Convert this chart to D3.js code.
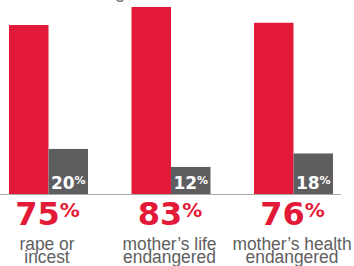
<!DOCTYPE html>
<html><head><meta charset="utf-8">
<script src="https://cdn.jsdelivr.net/npm/d3@7"></script>
<style>
html,body{margin:0;padding:0;background:#fff;overflow:hidden}
svg{display:block}
</style></head>
<body>
<script>
const categories = [["rape or","incest"],["mother\u2019s life","endangered"],["mother\u2019s health","endangered"]];
const catKeys = ["rape","life","health"];
const legalValues = [75, 83, 76];
const illegalValues = [20, 12, 18];
const seriesKeys = ["legal","illegal"];

const W = 354, H = 266;
const red = "#e31a37", gray = "#5e5e60", textGray = "#606060";

const svg = d3.select("body").append("svg").attr("width", W).attr("height", H);

const x = d3.scaleBand().domain(catKeys).range([9, 333]).paddingInner(0.355).paddingOuter(0);
const xs = d3.scaleBand().domain(seriesKeys).range([0, x.bandwidth()]);
const y = d3.scaleLinear().domain([0, 100]).range([194, 194 - 225.3]);

// partial title descender at top
svg.append("text").attr("x", 120).attr("y", -2.5).attr("text-anchor","middle")
  .attr("font-family","'Liberation Sans',sans-serif")
  .attr("font-size", 19).attr("fill", "#777").text("g");

const rows = catKeys.map((k,i)=>({k, cat: categories[i], legal: legalValues[i], illegal: illegalValues[i]}));

const g = svg.selectAll("g.grp").data(rows).join("g").attr("class","grp")
  .attr("transform", d => `translate(${x(d.k)},0)`);

g.append("rect").attr("x", xs("legal")).attr("width", xs.bandwidth())
  .attr("y", d => y(d.legal)).attr("height", d => y(0) - y(d.legal)).attr("fill", red);
g.append("rect").attr("x", xs("illegal")).attr("width", xs.bandwidth())
  .attr("y", d => y(d.illegal)).attr("height", d => y(0) - y(d.illegal)).attr("fill", gray);

// baseline
svg.append("line").attr("x1", 0).attr("x2", 341).attr("y1", y(0)+0.5).attr("y2", y(0)+0.5)
  .attr("stroke", "#a8a8a8").attr("stroke-width", 1);

// illegal value labels
const il = g.append("text").attr("x", xs("illegal") + xs.bandwidth()/2).attr("y", y(0) - 5)
  .attr("text-anchor","middle").attr("fill","#fff")
  .attr("font-family","'DejaVu Sans',sans-serif").attr("font-weight","bold");
il.append("tspan").attr("font-size", 17).text(d => d.illegal);
il.append("tspan").attr("font-size", 11).attr("dy", -5).text("%");

// big legal labels
const bl = g.append("text").attr("x", x.bandwidth()/2 - 1).attr("y", 225)
  .attr("text-anchor","middle").attr("fill", red)
  .attr("font-family","'DejaVu Sans',sans-serif").attr("font-weight","bold");
bl.append("tspan").attr("font-size", 32).text(d => d.legal);
bl.append("tspan").attr("font-size", 20).attr("dy", -8).text("%");

// category labels (horizontally condensed)
const cl = g.append("g").attr("transform", `translate(${x.bandwidth()/2 - 1.5},0) scale(0.915,1)`)
  .append("text").attr("text-anchor","middle").attr("fill", textGray)
  .attr("font-family","'Liberation Sans',sans-serif")
  .attr("font-size", 19);
cl.selectAll("tspan").data(d => d.cat).join("tspan")
  .attr("x", 0)
  .attr("y", (d,i) => 250 + i*13)
  .text(d => d);
</script>
</body></html>
